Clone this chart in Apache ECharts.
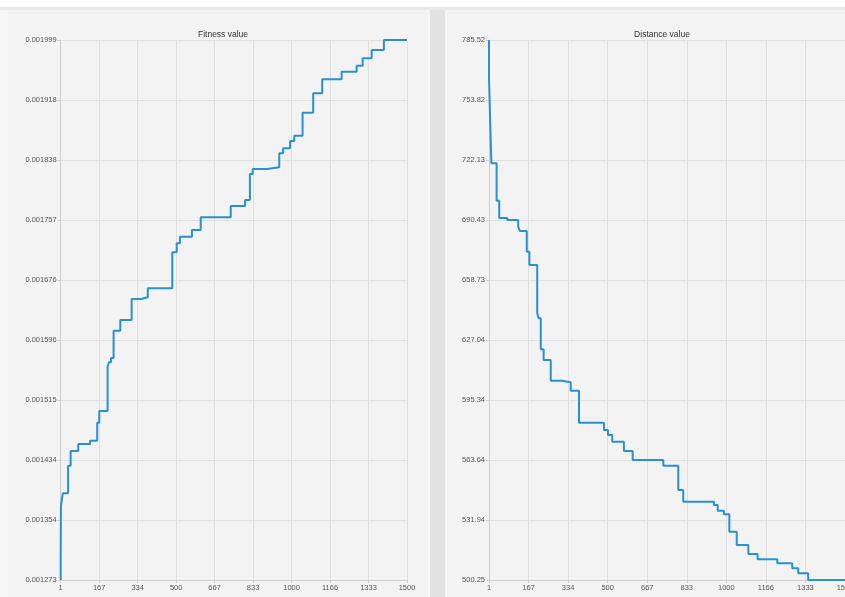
<!DOCTYPE html>
<html>
<head>
<meta charset="utf-8">
<script src="https://cdn.jsdelivr.net/npm/echarts@6/dist/echarts.min.js"></script>
<style>
    html, body { margin: 0; padding: 0; background: #f7f7f7; }
    #container { width: 845px; height: 597px; }
</style>
</head>
<body>
<div id="container"></div>
<script>
// x tick labels (iteration), shared by both panels
var xTickLabels = ['1', '167', '334', '500', '667', '833', '1000', '1166', '1333', '1500'];

// Fitness value - step points [iteration, value]
var fitnessIter = [1, 2, 10, 33, 44, 77, 128, 159, 168, 204, 210, 219, 230, 259, 308, 349, 378, 484, 503, 517, 569, 607, 737, 799, 820, 832, 894, 947, 964, 994, 1012, 1048, 1094, 1133, 1217, 1282, 1308, 1347, 1400, 1500];
var fitnessVal = [0.001273, 0.0013097, 0.0013725, 0.0013896, 0.0014267, 0.0014464, 0.0014558, 0.0014603, 0.0014845, 0.0015002,
    0.0015598, 0.0015657, 0.0015715, 0.0016082, 0.0016226, 0.0016508, 0.0016531, 0.0016652, 0.0017136, 0.0017257,
    0.0017345, 0.0017436, 0.0017606, 0.0017758, 0.0017839, 0.0018188, 0.0018256, 0.0018279, 0.0018467, 0.0018534,
    0.0018632, 0.0018703, 0.0019013, 0.0019273, 0.0019462, 0.0019564, 0.0019645, 0.0019744, 0.0019856, 0.001999];
var fitnessTicks = ['0.001273', '0.001354', '0.001434', '0.001515', '0.001596', '0.001676', '0.001757', '0.001838', '0.001918', '0.001999'];

// Distance value - step points [iteration, value]
var distanceIter = [1, 2, 9, 11, 33, 44, 78, 124, 131, 160, 171, 204, 210, 219, 231, 261, 308, 345, 380, 485, 502, 520, 569, 606, 735, 798, 819, 948, 964, 990, 1013, 1044, 1093, 1132, 1215, 1278, 1303, 1345, 1394, 1500];
var distanceVal = [785.52, 764.39, 761.22, 728.84, 720.38, 700.63, 691.49, 690.43, 686.89, 684.62,
    673.68, 666.66, 641.14, 638.50, 622.12, 616.47, 605.54, 604.69, 600.25, 583.35,
    579.49, 576.85, 573.31, 568.40, 563.64, 560.63, 547.80, 541.61, 539.87, 536.86,
    534.96, 525.77, 518.74, 513.99, 511.19, 509.07, 506.43, 503.79, 500.25, 500.25];
var distanceTicks = ['500.25', '531.94', '563.64', '595.34', '627.04', '658.73', '690.43', '722.13', '753.82', '785.52'];

var xMin = 1, xMax = 1500;
var fitMin = 0.001273, fitMax = 0.001999;
var disMin = 500.25, disMax = 785.52;

function pairs(xs, ys) {
    var out = [];
    for (var i = 0; i < xs.length; i++) {
        out.push([xs[i], ys[i]]);
    }
    return out;
}

function tickFormatter(labels, min, max) {
    var step = (max - min) / (labels.length - 1);
    return function (v) {
        var i = Math.round((v - min) / step);
        return labels[i] !== undefined ? labels[i] : '';
    };
}

function axisLabel(labels, min, max) {
    return {
        color: '#555',
        fontSize: 7.5,
        fontFamily: 'Liberation Sans',
        margin: 4,
        formatter: tickFormatter(labels, min, max)
    };
}

var gridLine = {show: true, lineStyle: {color: '#e0e0e0', width: 1}};
var axisLine = {show: true, lineStyle: {color: '#cdcdcd', width: 1}};
var axisTick = {show: true, length: 3, lineStyle: {color: '#cdcdcd'}};
var titleStyle = {color: '#333', fontSize: 8.5, fontWeight: 'normal', fontFamily: 'Liberation Sans'};

var myChart = echarts.init(document.getElementById('container'));
var option = {
    backgroundColor: '#f7f7f7',
    animation: false,
    graphic: [
        {type: 'rect', shape: {x: 0, y: 0, width: 845, height: 7}, style: {fill: '#ffffff'}, silent: true, z: -10},
        {type: 'rect', shape: {x: 0, y: 7, width: 845, height: 3}, style: {fill: '#e9e9e9'}, silent: true, z: -10},
        {type: 'rect', shape: {x: 8, y: 10, width: 419, height: 587}, style: {fill: '#f3f3f3'}, silent: true, z: -10},
        {type: 'rect', shape: {x: 430, y: 10, width: 15, height: 587}, style: {fill: '#e2e2e2'}, silent: true, z: -10},
        {type: 'rect', shape: {x: 447, y: 10, width: 398, height: 587}, style: {fill: '#f3f3f3'}, silent: true, z: -10}
    ],
    title: [
        {text: 'Fitness value', left: 218, top: 25, textAlign: 'center', textStyle: titleStyle},
        {text: 'Distance value', left: 657, top: 25, textAlign: 'center', textStyle: titleStyle}
    ],
    grid: [
        {left: 60.7, top: 40, width: 346.3, height: 540, outerBoundsMode: 'none', containLabel: false},
        {left: 489, top: 40, width: 356, height: 540, outerBoundsMode: 'none', containLabel: false}
    ],
    xAxis: [
        {
            type: 'value', gridIndex: 0, min: xMin, max: xMax, interval: (xMax - xMin) / 9,
            axisLine: axisLine, axisTick: axisTick, splitLine: gridLine,
            axisLabel: axisLabel(xTickLabels, xMin, xMax)
        },
        {
            type: 'value', gridIndex: 1, min: xMin, max: xMax, interval: (xMax - xMin) / 9,
            axisLine: axisLine, axisTick: axisTick, splitLine: gridLine,
            axisLabel: axisLabel(xTickLabels, xMin, xMax)
        }
    ],
    yAxis: [
        {
            type: 'value', gridIndex: 0, min: fitMin, max: fitMax, interval: (fitMax - fitMin) / 9,
            axisLine: axisLine, axisTick: axisTick, splitLine: gridLine,
            axisLabel: axisLabel(fitnessTicks, fitMin, fitMax)
        },
        {
            type: 'value', gridIndex: 1, min: disMin, max: disMax, interval: (disMax - disMin) / 9,
            axisLine: axisLine, axisTick: axisTick, splitLine: gridLine,
            axisLabel: axisLabel(distanceTicks, disMin, disMax)
        }
    ],
    series: [
        {
            name: 'Fitness value',
            type: 'line',
            xAxisIndex: 0,
            yAxisIndex: 0,
            step: 'start',
            showSymbol: false,
            lineStyle: {color: '#2b8fd4', width: 2},
            data: pairs(fitnessIter, fitnessVal)
        },
        {
            name: 'Distance value',
            type: 'line',
            xAxisIndex: 1,
            yAxisIndex: 1,
            step: 'start',
            showSymbol: false,
            lineStyle: {color: '#2b8fd4', width: 2},
            data: pairs(distanceIter, distanceVal)
        }
    ]
};
myChart.setOption(option);
</script>
</body>
</html>
